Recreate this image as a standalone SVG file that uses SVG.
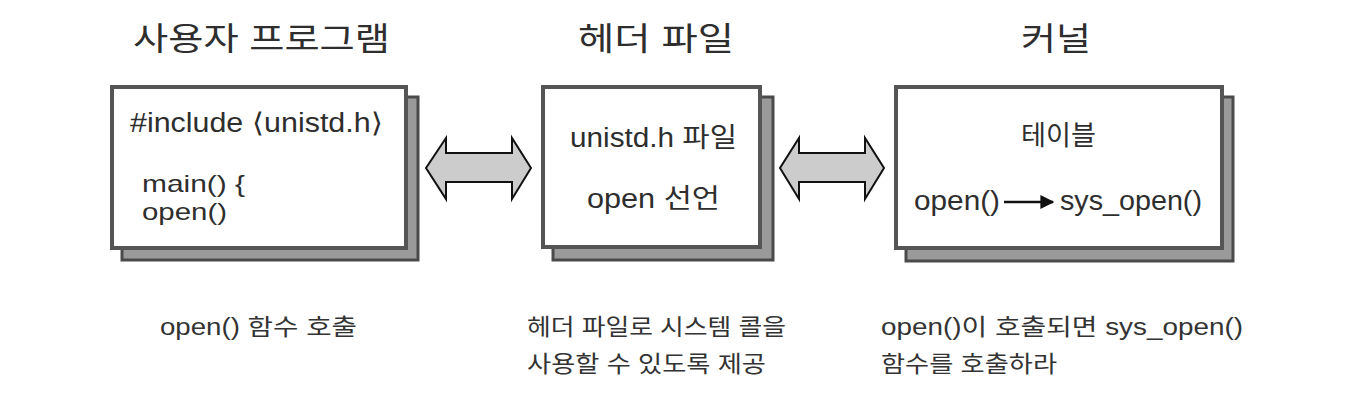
<svg xmlns="http://www.w3.org/2000/svg" width="1360" height="408" viewBox="0 0 1360 408">
<style>
.t{font-family:"Liberation Sans","Noto Sans CJK KR",sans-serif;fill:#2e2e2e}
.title{font-size:32px}
.in{font-size:27px}
.in2{font-size:24px}
.cap{font-size:23px;fill:#333}
.sh{fill:#9a9a9a;stroke:#4a4a4a;stroke-width:3}
.fr{fill:#fff;stroke:#555;stroke-width:4}
.dbl{fill:#cccccc;stroke:#111;stroke-width:2;stroke-linejoin:miter}
</style>
<defs>
<marker id="ah" viewBox="0 0 10 10" refX="9" refY="5" markerWidth="14" markerHeight="14" orient="auto" markerUnits="userSpaceOnUse">
<path d="M0,0 L10,5 L0,10 z" fill="#111"/>
</marker>
</defs>
<rect width="1360" height="408" fill="#fff"/>

<g id="titles">
<text class="t title" x="133" y="50" textLength="257" lengthAdjust="spacingAndGlyphs">사용자 프로그램</text>
<text class="t title" x="578" y="50" textLength="156" lengthAdjust="spacingAndGlyphs">헤더 파일</text>
<text class="t title" x="1021" y="50" textLength="70" lengthAdjust="spacingAndGlyphs">커널</text>
</g>

<g id="node-user">
<rect class="sh" x="122" y="97" width="296" height="163"/>
<rect class="fr" x="112" y="87" width="294" height="161"/>
<text class="t in" x="130" y="132" textLength="253" lengthAdjust="spacingAndGlyphs">#include ⟨unistd.h⟩</text>
<text class="t in2" x="142" y="192" textLength="103" lengthAdjust="spacingAndGlyphs">main() {</text>
<text class="t in2" x="142" y="220" textLength="85" lengthAdjust="spacingAndGlyphs">open()</text>
</g>

<g id="node-header">
<rect class="sh" x="553" y="97" width="220" height="163"/>
<rect class="fr" x="543" y="87" width="217" height="160"/>
<text class="t in" x="570" y="147" textLength="167" lengthAdjust="spacingAndGlyphs">unistd.h 파일</text>
<text class="t in" x="587" y="208" textLength="133" lengthAdjust="spacingAndGlyphs">open 선언</text>
</g>

<g id="node-kernel">
<rect class="sh" x="906" y="97" width="327" height="164"/>
<rect class="fr" x="896" y="87" width="326" height="161"/>
<text class="t in" x="1021" y="145" textLength="75" lengthAdjust="spacingAndGlyphs">테이블</text>
<text class="t in" x="914" y="210" textLength="86" lengthAdjust="spacingAndGlyphs">open()</text>
<line x1="1004" y1="202" x2="1053" y2="202" stroke="#111" stroke-width="2.5" marker-end="url(#ah)"/>
<text class="t in" x="1060" y="210" textLength="142" lengthAdjust="spacingAndGlyphs">sys_open()</text>
</g>

<g id="connectors">
<path class="dbl" d="M426,168 L446,138 L446,153 L512,153 L512,138 L531,168 L512,199 L512,182 L446,182 L446,199 Z"/>
<path class="dbl" d="M780,168 L799,138 L799,153 L865,153 L865,138 L884,168 L865,199 L865,182 L799,182 L799,199 Z"/>
</g>

<g id="captions">
<text class="t cap" x="160" y="335" textLength="197" lengthAdjust="spacingAndGlyphs">open() 함수 호출</text>
<text class="t cap" x="527" y="335" textLength="259" lengthAdjust="spacingAndGlyphs">헤더 파일로 시스템 콜을</text>
<text class="t cap" x="527" y="372" textLength="239" lengthAdjust="spacingAndGlyphs">사용할 수 있도록 제공</text>
<text class="t cap" x="881" y="335" textLength="362" lengthAdjust="spacingAndGlyphs">open()이 호출되면 sys_open()</text>
<text class="t cap" x="881" y="372" textLength="176" lengthAdjust="spacingAndGlyphs">함수를 호출하라</text>
</g>
</svg>
